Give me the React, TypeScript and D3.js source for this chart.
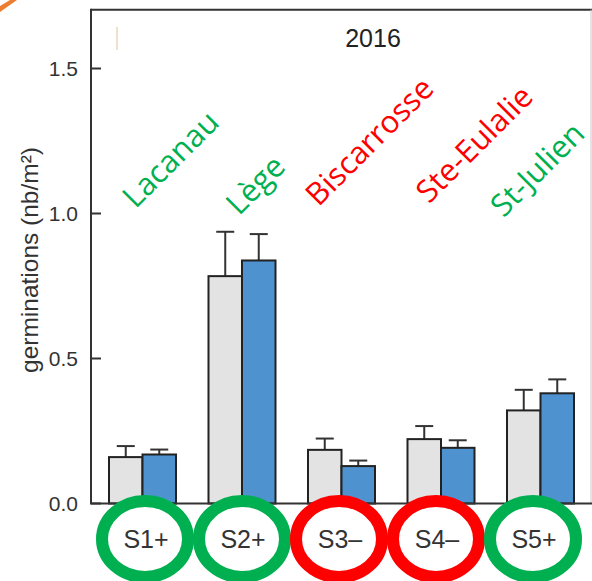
import React from "react";
import * as d3 from "d3";

const sites = ["S1+", "S2+", "S3–", "S4–", "S5+"];
const siteNames = ["Lacanau", "Lège", "Biscarrosse", "Ste-Eulalie", "St-Julien"];
const siteStatus = ["good", "good", "bad", "bad", "good"];
const series = ["control", "treated"];
const controlMeans = [0.160, 0.784, 0.185, 0.222, 0.321];
const controlErr = [0.038, 0.153, 0.039, 0.045, 0.071];
const treatedMeans = [0.169, 0.838, 0.129, 0.192, 0.380];
const treatedErr = [0.017, 0.091, 0.019, 0.026, 0.048];
const yTicks = [0, 0.5, 1.0, 1.5];
const title = "2016";
const yLabel = "germinations (nb/m²)";
// label anchor offsets relative to the group centre (annotation placement)
const nameDx = [-7, -3, -23, -12, -37];
const nameDy = [-294, -287, -296, -299, -285];

const W = 592;
const H = 581;
const GREEN = "#00b050";
const RED = "#ff0000";

export default function App() {
  const y = d3.scaleLinear().domain([0, 1.5]).range([503.5, 68.5]);
  const x = d3.scaleBand<string>().domain(sites).range([109, 574]).paddingInner(0.3266).paddingOuter(0);
  const xs = d3.scaleBand<string>().domain(series).range([0, x.bandwidth()]).padding(0);
  const xe = d3.scalePoint<string>().domain(sites).range([145, 533]);
  const left = 91;
  const top = y(1.703);
  const base = y(0);

  const bars = sites.flatMap((s, i) => [
    { s, k: "control", v: controlMeans[i], e: controlErr[i], fill: "#e3e3e3" },
    { s, k: "treated", v: treatedMeans[i], e: treatedErr[i], fill: "#4e92cf" },
  ]);

  return (
    <svg width={W} height={H} style={{ position: "absolute", left: 0, top: 0, background: "#fff" }}
      fontFamily="'Liberation Sans', Arial, sans-serif">
      <rect x={0} y={0} width={W} height={H} fill="#fff" />
      <polygon points="0,6 10,0 17,0 0,12" fill="#ed7d31" />
      {/* frame */}
      <line x1={left} x2={W} y1={top} y2={top} stroke="#333" strokeWidth={2} />
      <line x1={591} x2={591} y1={top} y2={base} stroke="#c8c8c8" strokeWidth={1} />
      <line x1={117} x2={117} y1={27} y2={50} stroke="#dcc39c" strokeWidth={1} />
      <text x={373} y={47} fontSize={25} textAnchor="middle" fill="#222">{title}</text>

      {/* bars */}
      {bars.map((b, i) => {
        const bx = (x(b.s) ?? 0) + (xs(b.k) ?? 0);
        const bw = xs.bandwidth();
        const cx = bx + bw / 2;
        const yt = y(b.v);
        const ye = y(b.v + b.e);
        return (
          <g key={i}>
            <line x1={cx} x2={cx} y1={yt} y2={ye} stroke="#333" strokeWidth={2} />
            <line x1={cx - 9} x2={cx + 9} y1={ye} y2={ye} stroke="#333" strokeWidth={2} />
            <rect x={bx} y={yt} width={bw} height={base - yt} fill={b.fill} stroke="#222" strokeWidth={2} />
          </g>
        );
      })}

      {/* axes */}
      <line x1={left} x2={left} y1={top - 1} y2={base} stroke="#333" strokeWidth={2} />
      <line x1={left - 1} x2={W} y1={base} y2={base} stroke="#333" strokeWidth={2} />
      {yTicks.map((t) => (
        <g key={t}>
          <line x1={left} x2={left + 10} y1={y(t)} y2={y(t)} stroke="#333" strokeWidth={2} />
          <text x={78} y={y(t)} dy="0.36em" fontSize={21} textAnchor="end" fill="#333">{t.toFixed(1)}</text>
        </g>
      ))}
      <text transform={`translate(38,373) rotate(-90)`} fontSize={24.5} fill="#333">{yLabel}</text>

      {/* site names */}
      {sites.map((s, i) => {
        const cx = (x(s) ?? 0) + x.bandwidth() / 2;
        return (
          <text key={s} transform={`translate(${cx + nameDx[i]},${base + nameDy[i]}) rotate(-45)`}
            fontFamily="'Open Sans', sans-serif" fontSize={31}
            fill={siteStatus[i] === "good" ? GREEN : RED}>{siteNames[i]}</text>
        );
      })}

      {/* site ellipses */}
      {sites.map((s, i) => (
        <g key={s}>
          <ellipse cx={xe(s)} cy={539} rx={43} ry={38} fill="#fff"
            stroke={siteStatus[i] === "good" ? GREEN : RED} strokeWidth={12} />
          <text x={(xe(s) ?? 0) + 1} y={539} dy="0.36em" fontSize={25} textAnchor="middle" fill="#333">{s}</text>
        </g>
      ))}
    </svg>
  );
}
